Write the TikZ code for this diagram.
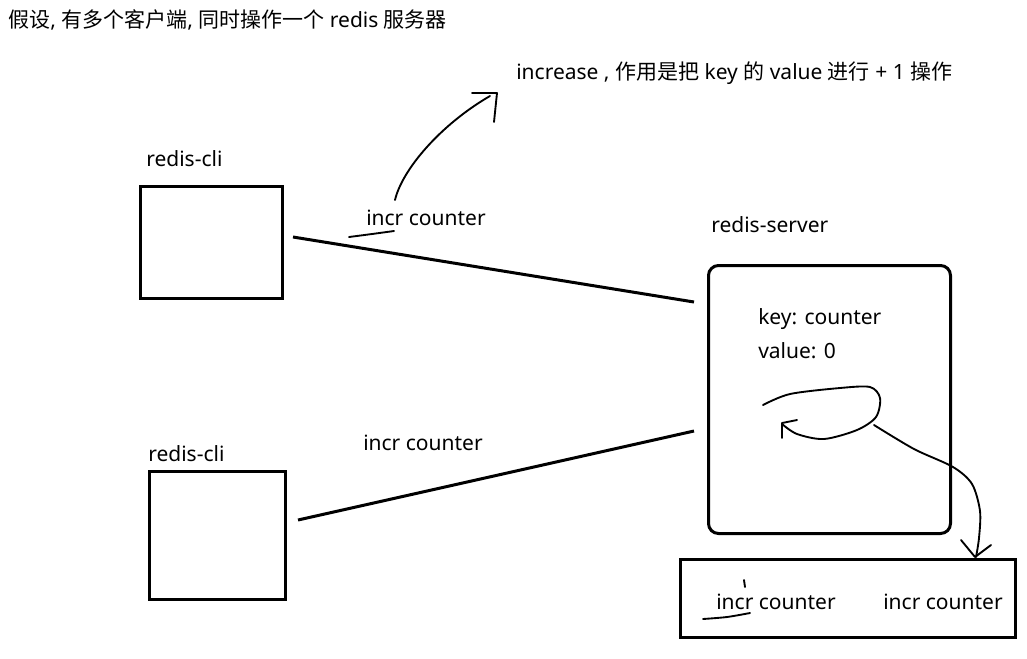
\documentclass[tikz,border=0pt]{standalone}
\usepackage{fontspec}
\setmainfont{Noto Sans}
\newfontfamily\cjk{Noto Sans CJK SC}
\begin{document}
\begin{tikzpicture}[x=0.75pt,y=-0.75pt,
  lbl/.style={inner sep=0pt,anchor=base west,font=\fontsize{15.75}{18}\selectfont},
  thickbox/.style={draw,line width=2.25pt,inner sep=0pt},
  wire/.style={line width=2.25pt},
  pen/.style={line width=1.4pt,line cap=round,line join=round},
  ]
\useasboundingbox (0,0) rectangle (1027,658);
% boxes
\node[thickbox,minimum width=106.5pt,minimum height=84pt] (cli1) at (211.5,242.5) {};
\node[thickbox,minimum width=102pt,minimum height=96pt] (cli2) at (217.5,535.5) {};
\node[thickbox,rounded corners=7.5pt,minimum width=181.5pt,minimum height=201pt] (server) at (829.5,399.5) {};
\node[thickbox,minimum width=251.25pt,minimum height=58pt] (queue) at (848,598.5) {};
% texts
\node[lbl] (title) at (8,27) {{\cjk 假设}, {\cjk 有多个客户端}, {\cjk 同时操作一个} redis {\cjk 服务器}};
\node[lbl] (note) at (516,79) {increase , {\cjk 作用是把} key {\cjk 的} value {\cjk 进行} + 1 {\cjk 操作}};
\node[lbl] (cliA) at (146,166) {redis-cli};
\node[lbl] (cliB) at (148,461) {redis-cli};
\node[lbl] (cmdA) at (366,225) {incr counter};
\node[lbl] (cmdB) at (363,450) {incr counter};
\node[lbl] (srvlbl) at (711,232) {redis-server};
\node[lbl] (key) at (758,324) {key: counter};
\node[lbl] (val) at (758,358) {value: 0};
\node[lbl] (q1) at (716,609) {incr counter};
\node[lbl] (q2) at (883,609) {incr counter};
% connection lines
\coordinate (l1a) at (293,237);
\coordinate (l1b) at (694,302);
\coordinate (l2a) at (298,520);
\coordinate (l2b) at (694,431);
\draw[wire] (l1a) -- (l1b);
\draw[wire] (l2a) -- (l2b);
% arrow to note
\coordinate (na) at (395,200);
\coordinate (nb) at (490,96);
\coordinate (nt) at (497,93);
\draw[pen] (na) .. controls (402,170) and (440,125) .. (nb);
\draw[pen] (472,93) -- (nt) -- (494,122);
% underline
\draw[pen] plot[smooth] coordinates {(349,237) (372,234) (394,231)};
% loop in server
\draw[pen] plot[smooth] coordinates {(763,405) (790,394) (840,388) (870,387) (880,398) (876,417) (857,430) (824,439) (797,434) (782,424)};
\draw[pen] (797,420) -- (782,423) -- (782,438);
% curve to queue
\draw[pen] plot[smooth] coordinates {(874,425) (914,449) (953,467) (972,484) (980,511) (979,538) (976,557)};
\draw[pen] (961,540) -- (975,557) -- (991,545);
% marks in queue
\draw[pen] plot[smooth] coordinates {(703,619) (727,617) (750,613)};
\draw[pen] (744,580) -- (745,587);
\end{tikzpicture}
\end{document}
